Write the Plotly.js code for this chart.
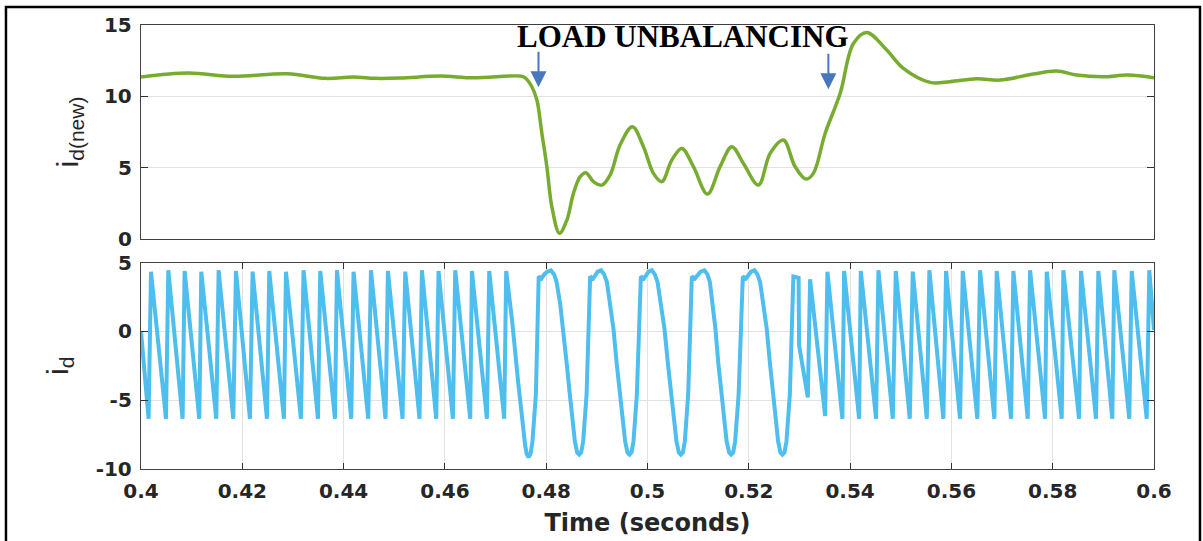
<!DOCTYPE html>
<html>
<head>
<meta charset="utf-8">
<script src="https://cdn.plot.ly/plotly-3.0.1.min.js"></script>
<style>
  html, body { margin: 0; padding: 0; background: #ffffff; }
  #chart { width: 1203px; height: 541px; }
</style>
</head>
<body>
<div id="chart"></div>
<script>
// ---------- DATA ----------
// Top panel: i_d(new)
const gTime = [0.4, 0.40934, 0.41822, 0.42888, 0.43638, 0.4419, 0.44624, 0.45118, 0.45907, 0.46559,
  0.47486, 0.47585, 0.47717, 0.47816, 0.47915, 0.48013, 0.48112, 0.48262, 0.48408, 0.48538,
  0.48671, 0.48783, 0.48933, 0.49099, 0.49263, 0.4946, 0.49703, 0.4992, 0.50117, 0.50283,
  0.50481, 0.50678, 0.50907, 0.51183, 0.51434, 0.51665, 0.51894, 0.5219, 0.52421, 0.52683,
  0.52914, 0.53131, 0.53275, 0.53507, 0.53803, 0.54065, 0.54329, 0.54724, 0.55052, 0.55579,
  0.55974, 0.565, 0.5696, 0.57611, 0.5808, 0.58474, 0.58994, 0.59487, 0.6];
const gValue = [11.35, 11.63, 11.4, 11.58, 11.26, 11.35, 11.26, 11.28, 11.42, 11.3,
  11.42, 11.3, 10.67, 9.74, 7.4, 5.07, 2.26, 0.4, 1.33, 3.2,
  4.37, 4.65, 4.02, 3.78, 4.5, 6.6, 7.87, 6.47, 4.6, 4.02,
  5.54, 6.35, 5.07, 3.15, 5.07, 6.47, 5.3, 3.78, 6.0, 6.94,
  5.07, 4.2, 4.6, 7.4, 10.2, 13.7, 14.48, 13.24, 11.96, 10.98,
  11.03, 11.23, 11.14, 11.56, 11.77, 11.49, 11.37, 11.49, 11.3];

// Bottom panel: i_d  (three pieces: sawtooth before, oscillation during, sawtooth after)
const sawTime = [0.4,
  0.4015, 0.40197, 0.40493, 0.40539, 0.40821, 0.40861, 0.41151, 0.4119, 0.41486, 0.41532,
  0.41822, 0.41875, 0.42151, 0.42203, 0.42487, 0.42532, 0.42822, 0.42862, 0.43158, 0.43209,
  0.43494, 0.43539, 0.43829, 0.43869, 0.44151, 0.44196, 0.44486, 0.4454, 0.44828, 0.44875,
  0.45163, 0.45217, 0.45499, 0.45546, 0.45829, 0.45874, 0.46158, 0.46204, 0.465, 0.46533,
  0.46829, 0.46875, 0.47171, 0.4721];
const sawValue = [0.0,
  -6.35, 4.35, -6.35, 4.45, -6.35, 4.4, -6.35, 4.35, -6.35, 4.45,
  -6.35, 4.4, -6.35, 4.35, -6.35, 4.4, -6.35, 4.35, -6.35, 4.45,
  -6.35, 4.4, -6.35, 4.45, -6.35, 4.35, -6.35, 4.45, -6.35, 4.4,
  -6.35, 4.35, -6.35, 4.45, -6.35, 4.4, -6.35, 4.45, -6.35, 4.4,
  -6.35, 4.4, -6.35, 4.4];

const oscTime = [0.47329, 0.47447, 0.47526, 0.47585, 0.47615, 0.4765, 0.4769, 0.47729, 0.47796, 0.47832, 0.47852,
  0.47907, 0.4796, 0.48019, 0.48092, 0.48157, 0.48205, 0.48276, 0.48335, 0.48404, 0.48467, 0.48566, 0.48611, 0.48651, 0.4869, 0.4873, 0.48797, 0.48848, 0.48868,
  0.48927, 0.48977, 0.49016, 0.49085, 0.49144, 0.49198, 0.49263, 0.49328, 0.49391, 0.4946, 0.49559, 0.49604, 0.49644, 0.49683, 0.49723, 0.4979, 0.49841, 0.49869,
  0.49928, 0.49983, 0.50023, 0.50086, 0.50145, 0.50198, 0.5027, 0.50335, 0.50402, 0.50471, 0.50572, 0.50619, 0.50658, 0.50698, 0.50737, 0.50803, 0.50852, 0.50875,
  0.50935, 0.5099, 0.51049, 0.51124, 0.51183, 0.51231, 0.51286, 0.51341, 0.51398, 0.5146, 0.51562, 0.51612, 0.51651, 0.51691, 0.5173, 0.51799, 0.51854, 0.51882,
  0.51941, 0.51996, 0.52046, 0.52111, 0.5217, 0.52223, 0.52289, 0.52354, 0.52417, 0.52486, 0.52579, 0.52624, 0.52664, 0.52703, 0.52743, 0.5281, 0.52859, 0.5288];
const oscValue = [0.7, -3.7, -6.5, -8.3, -8.9, -9.15, -8.9, -8.0, -4.6, 0.0, 4.0,
  3.85, 4.15, 4.35, 4.45, 4.15, 3.6, 2.0, 0.2, -2.3, -4.6, -8.0, -8.8, -8.95, -8.8, -8.0, -4.6, 0.7, 4.0,
  3.85, 4.15, 4.35, 4.45, 4.15, 3.6, 2.0, 0.2, -2.3, -4.6, -8.0, -8.8, -8.95, -8.8, -8.0, -4.6, 0.7, 4.0,
  3.85, 4.15, 4.35, 4.45, 4.15, 3.6, 2.0, 0.2, -2.3, -4.6, -8.0, -8.8, -8.95, -8.8, -8.0, -4.6, 0.7, 4.0,
  3.85, 4.15, 4.35, 4.45, 4.15, 3.6, 2.0, 0.2, -2.3, -4.6, -8.0, -8.8, -8.95, -8.8, -8.0, -4.6, 0.7, 4.0,
  3.85, 4.15, 4.35, 4.45, 4.15, 3.6, 2.0, 0.2, -2.3, -4.6, -8.0, -8.8, -8.95, -8.8, -8.0, -4.6, 0.7, 4.0];

const tailTime = [0.52983, 0.52993, 0.53165, 0.5321,
  0.53507, 0.53552, 0.53848, 0.53882, 0.54178, 0.54211, 0.54513, 0.54559, 0.54843, 0.54902,
  0.55178, 0.55237, 0.55514, 0.55565, 0.55841, 0.55895, 0.56171, 0.56224, 0.56512, 0.56566,
  0.56848, 0.56895, 0.57178, 0.57223, 0.57507, 0.57553, 0.57849, 0.57882, 0.58178, 0.5821,
  0.5852, 0.58559, 0.58855, 0.58901, 0.59177, 0.59216, 0.59512, 0.5956, 0.59856, 0.59907, 0.6];
const tailValue = [3.9, -1.0, -4.8, 3.8,
  -6.15, 4.35, -6.35, 4.4, -6.35, 4.4, -6.35, 4.45, -6.35, 4.4,
  -6.35, 4.35, -6.35, 4.45, -6.35, 4.4, -6.35, 4.4, -6.35, 4.45,
  -6.35, 4.4, -6.35, 4.4, -6.35, 4.45, -6.35, 4.35, -6.35, 4.45,
  -6.35, 4.4, -6.35, 4.4, -6.35, 4.45, -6.35, 4.4, -6.35, 4.45, 0.1];

// Axis ticks
const xTickVals = [0.4, 0.42, 0.44, 0.46, 0.48, 0.5, 0.52, 0.54, 0.56, 0.58, 0.6];
const xTickText = ['0.4', '0.42', '0.44', '0.46', '0.48', '0.5', '0.52', '0.54', '0.56', '0.58', '0.6'];
const topYTicks = [0, 5, 10, 15];
const topYText = ['0', '5', '10', '15'];
const botYTicks = [-10, -5, 0, 5];
const botYText = ['-10', '-5', '0', '5'];

// Annotation content
const eventLabel = 'LOAD UNBALANCING';
const arrowTimes = [0.47848, 0.53571];
const arrowTipValues = [10.63, 10.49];

// ---------- CHART ----------
const idTime = sawTime.concat(oscTime, tailTime);
const idValue = sawValue.concat(oscValue, tailValue);

const tickFont = {family: 'DejaVu Sans', size: 20, color: '#262626', weight: 'bold'};
const titleFont = {family: 'Liberation Sans, Arial', size: 30, color: '#262626'};
const frameColor = '#404040';
const gridColor = '#e2e2e2';

const traces = [
  {x: gTime, y: gValue, xaxis: 'x2', yaxis: 'y2', type: 'scatter', mode: 'lines',
   line: {color: '#77AC30', width: 3.5, shape: 'spline', smoothing: 1.0}, hoverinfo: 'skip'},
  {x: idTime, y: idValue, xaxis: 'x', yaxis: 'y', type: 'scatter', mode: 'lines',
   line: {color: '#4DBEEE', width: 4}, hoverinfo: 'skip'}
];

const annotations = [
  {xref: 'x2', yref: 'y2', x: 0.50694, y: 14.2, text: '<b>' + eventLabel + '</b>', showarrow: false,
   xanchor: 'center', yanchor: 'middle',
   font: {family: 'Liberation Serif, Times New Roman', size: 31, color: '#000000'}}
];
arrowTimes.forEach(function (t, i) {
  annotations.push({xref: 'x2', yref: 'y2', x: t, y: arrowTipValues[i], text: '', showarrow: true,
    ax: 0, ay: -37, arrowhead: 2, arrowsize: 1.6, arrowwidth: 2, arrowcolor: '#4677BF'});
});

const layout = {
  width: 1203, height: 541,
  margin: {l: 141, r: 49, t: 25, b: 72},
  paper_bgcolor: '#ffffff', plot_bgcolor: '#ffffff',
  showlegend: false,
  xaxis: {domain: [0, 1], anchor: 'y', range: [0.4, 0.6], tickvals: xTickVals, ticktext: xTickText,
    ticks: 'inside', ticklen: 6, tickwidth: 1, tickcolor: '#333333',
    showline: true, mirror: 'ticks', linecolor: frameColor, linewidth: 1.2,
    showgrid: true, gridcolor: gridColor, gridwidth: 1, zeroline: false,
    tickfont: tickFont, ticklabelstandoff: 4,
    title: {text: 'Time (seconds)', standoff: 12,
      font: {family: 'DejaVu Sans', size: 24, color: '#262626', weight: 'bold'}}},
  yaxis: {domain: [0, 0.4646], anchor: 'x', range: [-10, 5], tickvals: botYTicks, ticktext: botYText,
    ticks: 'inside', ticklen: 7, tickwidth: 1, tickcolor: '#333333',
    showline: true, mirror: 'ticks', linecolor: frameColor, linewidth: 1.2,
    showgrid: true, gridcolor: gridColor, gridwidth: 1, zeroline: false,
    tickfont: tickFont, ticklabelstandoff: 4,
    title: {text: 'i<sub>d</sub>', standoff: 18, font: titleFont}},
  xaxis2: {domain: [0, 1], anchor: 'y2', range: [0.4, 0.6], showticklabels: false, ticks: '',
    showline: true, mirror: true, linecolor: frameColor, linewidth: 1.2,
    showgrid: false, zeroline: false},
  yaxis2: {domain: [0.518, 1], anchor: 'x2', range: [0, 15], tickvals: topYTicks, ticktext: topYText,
    ticks: 'inside', ticklen: 7, tickwidth: 1, tickcolor: '#333333',
    showline: true, mirror: 'ticks', linecolor: frameColor, linewidth: 1.2,
    showgrid: true, gridcolor: gridColor, gridwidth: 1, zeroline: false,
    tickfont: tickFont, ticklabelstandoff: 4,
    title: {text: 'i<sub>d(new)</sub>', standoff: 16, font: titleFont}},
  annotations: annotations,
  shapes: [
    {type: 'rect', xref: 'paper', yref: 'paper', x0: -0.1333, x1: 1.0454, y0: -0.25, y1: 1.0405,
     line: {color: '#000000', width: 2.5}, fillcolor: 'rgba(0,0,0,0)', layer: 'above'}
  ]
};

Plotly.newPlot('chart', traces, layout, {displayModeBar: false, staticPlot: true});
</script>
</body>
</html>
